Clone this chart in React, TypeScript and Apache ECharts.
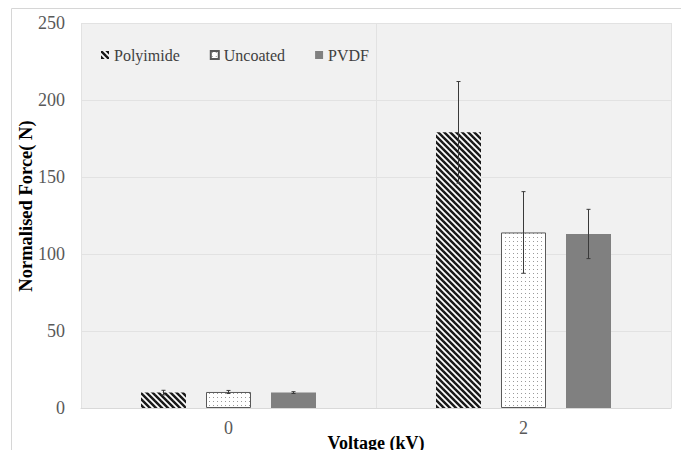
import React, { useEffect, useRef } from "react";
import * as echarts from "echarts";

const categories = ["0", "2"];
const seriesNames = ["Polyimide", "Uncoated", "PVDF"];
const polyimide = [10, 179];
const polyimideErr = [1.5, 33];
const uncoated = [10.4, 114];
const uncoatedErr = [1, 26.5];
const pvdf = [10, 113];
const pvdfErr = [0.6, 16];
const yTicks = { min: 0, max: 250, interval: 50 };

const FONT = "'Liberation Serif', 'Times New Roman', serif";

function stripeTile(): HTMLCanvasElement {
  const s = 6;
  const c = document.createElement("canvas");
  c.width = s;
  c.height = s;
  const ctx = c.getContext("2d")!;
  ctx.fillStyle = "#ffffff";
  ctx.fillRect(0, 0, s, s);
  ctx.strokeStyle = "#1a1a1a";
  ctx.lineWidth = 2.5;
  for (const k of [-s, 0, s]) {
    ctx.beginPath();
    ctx.moveTo(k - 1, -1);
    ctx.lineTo(k + s + 1, s + 1);
    ctx.stroke();
  }
  return c;
}

function dotTile(): HTMLCanvasElement {
  const s = 4;
  const c = document.createElement("canvas");
  c.width = s;
  c.height = s;
  const ctx = c.getContext("2d")!;
  ctx.fillStyle = "#ffffff";
  ctx.fillRect(0, 0, s, s);
  ctx.fillStyle = "#9a9a9a";
  ctx.fillRect(1, 1, 1, 1);
  return c;
}

export default function App() {
  const ref = useRef<HTMLDivElement>(null);
  useEffect(() => {
    if (!ref.current) return;
    const chart = echarts.init(ref.current, undefined, { renderer: "svg" });
    const stripes = { image: stripeTile(), repeat: "repeat" } as any;
    const dots = { image: dotTile(), repeat: "repeat" } as any;

    const barWidth = 45;
    const gapPx = 20;
    const step = barWidth + gapPx;

    const errSeries = (vals: number[], errs: number[], idx: number) => ({
      type: "custom",
      name: seriesNames[idx] + " err",
      z: 10,
      encode: { x: 0, y: [1, 2] },
      data: vals.map((v, i) => [i, v - errs[i], v + errs[i]]),
      renderItem: (_p: any, api: any) => {
        const x = api.value(0);
        const top = api.coord([x, api.value(2)]);
        const bot = api.coord([x, api.value(1)]);
        const cx = top[0] + (idx - 1) * step;
        const style = { stroke: "#3a3a3a", lineWidth: 1 };
        return {
          type: "group",
          children: [
            { type: "line", shape: { x1: cx, y1: top[1], x2: cx, y2: bot[1] }, style },
            { type: "line", shape: { x1: cx - 2, y1: top[1], x2: cx + 2, y2: top[1] }, style },
            { type: "line", shape: { x1: cx - 2, y1: bot[1], x2: cx + 2, y2: bot[1] }, style },
          ],
        };
      },
    });

    chart.setOption({
      animation: false,
      backgroundColor: "#ffffff",
      grid: { left: 81, top: 23, right: 10, bottom: 42, show: true, backgroundColor: "#f1f1f1", borderWidth: 0 },
      legend: {
        data: seriesNames,
        left: 96,
        top: 42,
        itemWidth: 8,
        itemHeight: 8,
        itemGap: 30,
        icon: "rect",
        textStyle: { fontFamily: FONT, fontSize: 16, color: "#404040" },
      },
      xAxis: {
        type: "category",
        data: categories,
        axisTick: { show: false },
        axisLine: { show: true, lineStyle: { color: "#d9d9d9" } },
        axisLabel: { fontFamily: FONT, fontSize: 18, color: "#595959", margin: 11 },
        splitLine: { show: true, lineStyle: { color: "#e2e2e2" } },
      },
      yAxis: {
        type: "value",
        min: yTicks.min,
        max: yTicks.max,
        interval: yTicks.interval,
        axisLine: { show: false },
        axisTick: { show: false },
        axisLabel: { fontFamily: FONT, fontSize: 18, color: "#595959", margin: 16 },
        splitLine: { show: true, lineStyle: { color: "#e2e2e2" } },
      },
      graphic: [
        { type: "rect", shape: { x: 11.5, y: 8.5, width: 720, height: 500 }, style: { fill: "none", stroke: "#d6d6d6", lineWidth: 1 }, z: -1, silent: true },
        { type: "text", x: 26, y: 206, rotation: Math.PI / 2, style: { text: "Normalised Force( N)", font: `bold 18.5px ${FONT}`, fill: "#000", align: "center", verticalAlign: "middle" } },
        { type: "text", x: 376, y: 443, style: { text: "Voltage (kV)", font: `bold 18px ${FONT}`, fill: "#000", align: "center", verticalAlign: "middle" } },
      ],
      series: [
        { type: "bar", name: seriesNames[0], data: polyimide, barWidth, barGap: `${(gapPx / barWidth) * 100}%`, itemStyle: { color: stripes } },
        { type: "bar", name: seriesNames[1], data: uncoated, barWidth, barGap: `${(gapPx / barWidth) * 100}%`, itemStyle: { color: dots, borderColor: "#595959", borderWidth: 1 } },
        { type: "bar", name: seriesNames[2], data: pvdf, barWidth, barGap: `${(gapPx / barWidth) * 100}%`, itemStyle: { color: "#808080" } },
        errSeries(polyimide, polyimideErr, 0),
        errSeries(uncoated, uncoatedErr, 1),
        errSeries(pvdf, pvdfErr, 2),
      ],
    } as any);
    return () => chart.dispose();
  }, []);
  return <div ref={ref} style={{ position: "fixed", left: 0, top: 0, width: 681, height: 450 }} />;
}
